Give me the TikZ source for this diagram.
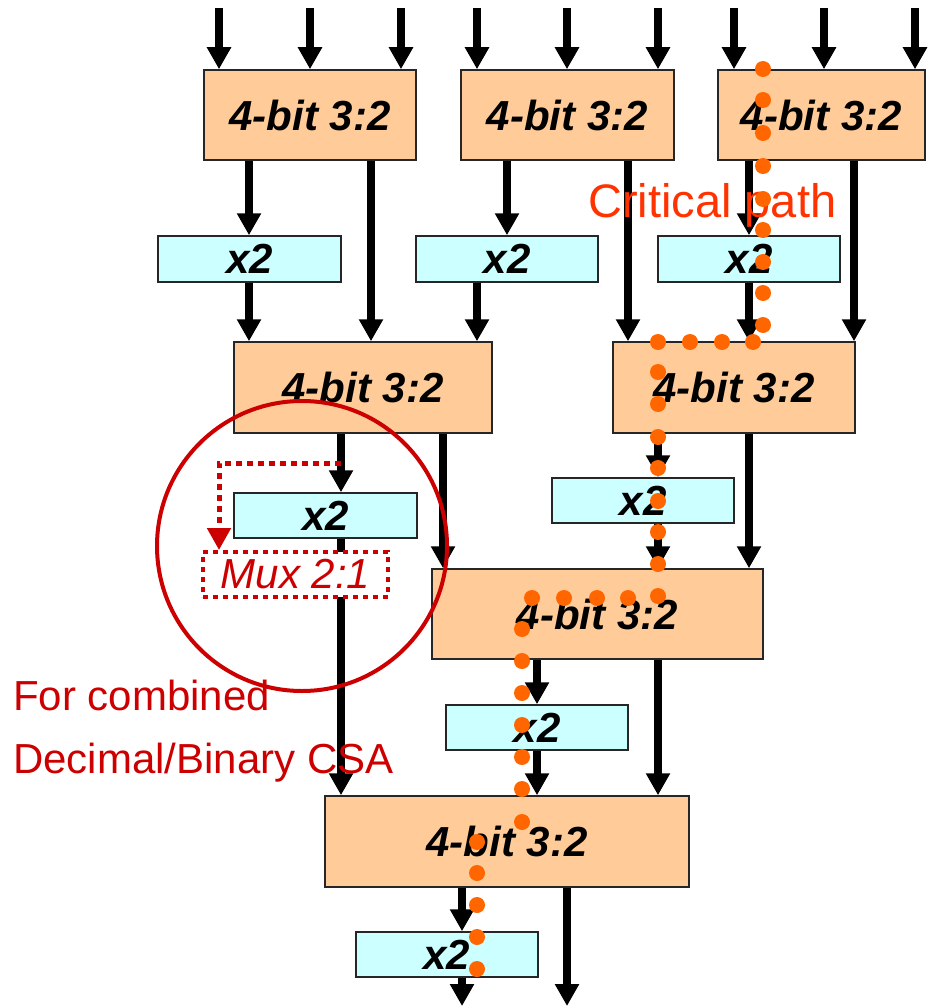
\documentclass[tikz,border=0pt]{standalone}
\usepackage{fontspec}
\setmainfont{Liberation Sans}
\usetikzlibrary{arrows.meta}
\definecolor{csaorange}{HTML}{FFCC99}
\definecolor{xcyan}{HTML}{CCFFFF}
\definecolor{muxred}{HTML}{CC0000}
\definecolor{critorange}{HTML}{FF3300}
\definecolor{dotorange}{HTML}{FF6600}
\begin{document}
\begin{tikzpicture}[x=1pt,y=-1pt,
  csa/.style={draw=black!85, line width=1.5pt, fill=csaorange, inner sep=0pt, minimum height=90pt,
    font=\fontsize{42}{42}\selectfont\bfseries\itshape},
  dbl/.style={draw=black!85, line width=1.5pt, fill=xcyan, inner sep=0pt, minimum height=45pt, minimum width=182pt,
    font=\fontsize{42}{42}\selectfont\bfseries\itshape},
  arr/.style={line width=7.5pt, -{Triangle[width=23pt,length=22pt]}},
  muxbox/.style={draw=muxred, line width=4pt, dash pattern=on 5pt off 5pt, fill=white, inner sep=0pt,
    minimum width=185pt, minimum height=45pt, text=muxred, font=\fontsize{42}{42}\selectfont\itshape},
  redarr/.style={draw=muxred, line width=5pt, dash pattern=on 6pt off 5pt, -{Triangle[width=23pt,length=22pt]}},
  note/.style={inner sep=0pt, anchor=base west, text=muxred, font=\fontsize{42}{42}\selectfont},
  dot/.style={fill=dotorange}
]
\useasboundingbox (0,0) rectangle (927,1006);

% CSA boxes
\node[csa, minimum width=212pt] (c1) at (310,115) {4-bit 3:2};
\node[csa, minimum width=213pt] (c2) at (567.5,115) {4-bit 3:2};
\node[csa, minimum width=207pt] (c3) at (821.5,115) {4-bit 3:2};
\node[csa, minimum width=258pt, minimum height=91pt] (c4) at (363,387.5) {4-bit 3:2};
\node[csa, minimum width=242pt, minimum height=91pt] (c5) at (734,387.5) {4-bit 3:2};
\node[csa, minimum width=331pt] (c6) at (597.5,614) {4-bit 3:2};
\node[csa, minimum width=364pt, minimum height=91pt] (c7) at (507,841.5) {4-bit 3:2};

% x2 boxes
\node[dbl, minimum width=183pt, minimum height=46pt] (m1) at (249.5,259) {x2};
\node[dbl, minimum height=46pt] (m2) at (507,259) {x2};
\node[dbl, minimum height=46pt] (m3) at (749,259) {x2};
\node[dbl, minimum width=183pt] (m4) at (325.5,515.5) {x2};
\node[dbl] (m5) at (643,500.5) {x2};
\node[dbl] (m6) at (537,727.5) {x2};
\node[dbl] (m7) at (447,954.5) {x2};

% inputs
\foreach \n/\x/\b in {1/219/c1,2/310/c1,3/401/c1,4/477/c2,5/567/c2,6/658/c2,7/734/c3,8/824/c3,9/915/c3}{
  \coordinate (i\n) at (\x,8);
  \draw[arr] (i\n) -- (\b.north -| i\n);
}

% connectors
\draw[arr] (c1.south -| 249,0) -- (m1.north -| 249,0);
\draw[arr] (c1.south -| 371,0) -- (c4.north -| 371,0);
\draw[arr] (m1.south -| 249,0) -- (c4.north -| 249,0);
\draw[arr] (c2.south -| 507,0) -- (m2.north -| 507,0);
\draw[arr] (c2.south -| 628,0) -- (c5.north -| 628,0);
\draw[arr] (m2.south -| 477,0) -- (c4.north -| 477,0);
\draw[arr] (c3.south -| 749,0) -- (m3.north -| 749,0);
\draw[arr] (c3.south -| 854,0) -- (c5.north -| 854,0);
\draw[arr] (m3.south -| 749,0) -- (c5.north -| 749,0);
\draw[arr] (c4.south -| 341,0) -- (m4.north -| 341,0);
\draw[arr] (c4.south -| 443,0) -- (c6.north -| 443,0);
\draw[arr] (m4.south -| 341,0) -- (c7.north -| 341,0);
\draw[arr] (c5.south -| 658,0) -- (m5.north -| 658,0);
\draw[arr] (c5.south -| 749,0) -- (c6.north -| 749,0);
\draw[arr] (m5.south -| 658,0) -- (c6.north -| 658,0);
\draw[arr] (c6.south -| 537,0) -- (m6.north -| 537,0);
\draw[arr] (c6.south -| 658,0) -- (c7.north -| 658,0);
\draw[arr] (m6.south -| 537,0) -- (c7.north -| 537,0);
\draw[arr] (c7.south -| 462,0) -- (m7.north -| 462,0);
\coordinate (o1) at (462,1006);
\coordinate (o2) at (567,1006);
\draw[arr] (m7.south -| o1) -- (o1);
\draw[arr] (c7.south -| o2) -- (o2);

% mux
\node[muxbox] (mux) at (295.5,574.5) {Mux 2:1};
\coordinate (rs) at (341,463);
\draw[redarr] (rs) -| (mux.north -| 219,0);

% labels
\node[inner sep=0pt, anchor=base west, text=critorange, font=\fontsize{47}{47}\selectfont] (crit) at (588,217) {Critical path};
\node[note] (lab1) at (13,710) {For combined};
\node[note] (lab2) at (13,773) {Decimal/Binary CSA};

% ring
\draw[muxred, line width=4pt] (302,546) circle (145pt);

% critical path dots
\foreach \x/\y in {763/69,763/100,763/133,763/166,763/199,763/230,763/262,763/293,763/325,
  753/342,722/342,690/342,658/342,
  658/372,658/404,658/437,658/468,658/501,658/532,658/564,658/596,
  628/598,597/598,564/598,532/598,
  522/629,522/661,522/693,522/725,522/757,522/789,522/822,
  477/842,477/873,477/905,477/937,477/969}
  \fill[dot] (\x,\y) circle (8pt);
\end{tikzpicture}
\end{document}
